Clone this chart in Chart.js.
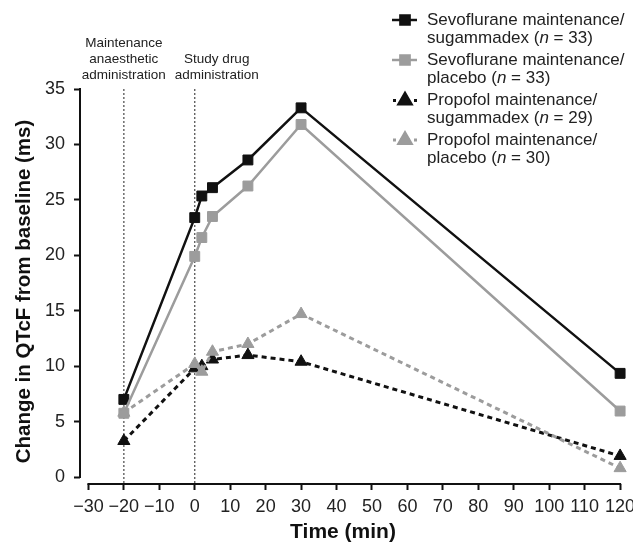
<!DOCTYPE html>
<html>
<head>
<meta charset="utf-8">
<script src="https://cdn.jsdelivr.net/npm/chart.js@4.4.1/dist/chart.umd.min.js"></script>
<style>
  html, body { margin: 0; padding: 0; background: #fff; }
  #wrap { width: 633px; height: 542px; position: relative; }
</style>
</head>
<body>
<div id="wrap"><canvas id="chart"></canvas></div>
<script>
// time points (min) and mean change in QTcF (ms)
const TIMES = [-20, 0, 2, 5, 15, 30, 120];
const SEVO_SUG = [7.0, 23.4, 25.35, 26.1, 28.6, 33.3, 9.35];
const SEVO_PLA = [5.75, 19.9, 21.6, 23.5, 26.25, 31.8, 5.95];
const PROP_SUG = [3.25, 9.8, 10.0, 10.6, 11.0, 10.4, 1.9];
const PROP_PLA = [5.8, 10.2, 9.5, 11.3, 12.0, 14.7, 0.8];

const X_TICKS = [-30, -20, -10, 0, 10, 20, 30, 40, 50, 60, 70, 80, 90, 100, 110, 120];
const Y_TICKS = [0, 5, 10, 15, 20, 25, 30, 35];

const EVENT_TIMES = [-20, 0];
const EVENT_LABELS = [["Maintenance", "anaesthetic", "administration"], ["Study drug", "administration"]];

const SERIES_LINE1 = ["Sevoflurane maintenance/", "Sevoflurane maintenance/", "Propofol maintenance/", "Propofol maintenance/"];
const SERIES_LINE2 = ["sugammadex", "placebo", "sugammadex", "placebo"];
const SERIES_N = [33, 33, 29, 30];

const BLACK = '#111111';
const GREY = '#9c9c9c';
const FONT = '"Liberation Sans", Arial, Helvetica, sans-serif';
const Y_MIN = -0.63, X_MIN = -32.37, X_MAX = 121.1;

const styles = [
  { color: BLACK, shape: 'rect', dash: [] },
  { color: GREY, shape: 'rect', dash: [] },
  { color: BLACK, shape: 'triangle', dash: [5, 4] },
  { color: GREY, shape: 'triangle', dash: [5, 4] }
];
const seriesValues = [SEVO_SUG, SEVO_PLA, PROP_SUG, PROP_PLA];

const datasets = seriesValues.map((vals, i) => ({
  data: TIMES.map((t, j) => ({ x: t, y: vals[j] })),
  borderColor: styles[i].color,
  backgroundColor: styles[i].color,
  borderWidth: styles[i].dash.length ? 3 : 2.5,
  borderDash: styles[i].dash,
  pointStyle: styles[i].shape,
  pointRadius: 7,
  pointBorderWidth: 1,
  tension: 0,
  clip: false,
  order: 3 - i
}));

// vertical dotted event lines
EVENT_TIMES.forEach(t => {
  datasets.push({
    data: [{ x: t, y: 35 }, { x: t, y: Y_MIN }],
    borderColor: '#555',
    borderWidth: 1.3,
    borderDash: [2, 2],
    pointRadius: 0,
    order: 10
  });
});

// axis lines, titles, event text, legend
const overlay = {
  id: 'overlay',
  afterDraw(chart) {
    const { ctx, chartArea, scales: { x, y } } = chart;
    ctx.save();

    // axis lines (detached)
    ctx.strokeStyle = BLACK;
    ctx.lineWidth = 2;
    ctx.setLineDash([]);
    ctx.beginPath();
    ctx.moveTo(chartArea.left, y.getPixelForValue(35) - 1);
    ctx.lineTo(chartArea.left, y.getPixelForValue(0) + 1);
    ctx.moveTo(x.getPixelForValue(-30) - 1, chartArea.bottom);
    ctx.lineTo(x.getPixelForValue(120) + 1, chartArea.bottom);
    ctx.stroke();

    // axis titles
    ctx.fillStyle = BLACK;
    ctx.font = 'bold 21px ' + FONT;
    ctx.textAlign = 'center';
    ctx.textBaseline = 'alphabetic';
    ctx.fillText('Time (min)', 343, 538);
    ctx.font = 'bold 20.5px ' + FONT;
    ctx.textBaseline = 'middle';
    ctx.save();
    ctx.translate(24, 291.5);
    ctx.rotate(-Math.PI / 2);
    ctx.fillText('Change in QTcF from baseline (ms)', 0, 0);
    ctx.restore();

    // event labels
    ctx.font = '13.5px ' + FONT;
    ctx.fillStyle = '#222';
    ctx.textBaseline = 'alphabetic';
    const anchors = [x.getPixelForValue(EVENT_TIMES[0]), x.getPixelForValue(EVENT_TIMES[1]) + 22];
    EVENT_LABELS.forEach((lines, k) => {
      lines.forEach((txt, j) => {
        ctx.fillText(txt, anchors[k], 79 - (lines.length - 1 - j) * 16);
      });
    });

    // legend
    ctx.textAlign = 'left';
    ctx.textBaseline = 'middle';
    const rows = [20, 60, 100.5, 140];
    styles.forEach((s, i) => {
      const ry = rows[i];
      ctx.strokeStyle = s.color;
      ctx.fillStyle = s.color;
      ctx.lineWidth = s.dash.length ? 3 : 2.5;
      ctx.setLineDash(s.dash.length ? [3, 4] : []);
      ctx.beginPath();
      if (s.dash.length) {
        ctx.moveTo(393, ry); ctx.lineTo(418, ry);
      } else {
        ctx.moveTo(392, ry); ctx.lineTo(417, ry);
      }
      ctx.stroke();
      ctx.setLineDash([]);
      Chart.helpers.drawPoint(ctx, { pointStyle: s.shape, radius: s.shape === 'rect' ? 6.5 : 7, borderWidth: 1 }, 405, ry);
      ctx.fill();

      ctx.fillStyle = '#222';
      ctx.font = '17px ' + FONT;
      ctx.fillText(SERIES_LINE1[i], 427, ry);
      let tx = 427;
      const y2 = ry + 18;
      const p1 = SERIES_LINE2[i] + ' (';
      ctx.fillText(p1, tx, y2); tx += ctx.measureText(p1).width;
      ctx.font = 'italic 17px ' + FONT;
      ctx.fillText('n', tx, y2); tx += ctx.measureText('n').width;
      ctx.font = '17px ' + FONT;
      ctx.fillText(' = ' + SERIES_N[i] + ')', tx, y2);
    });
    ctx.restore();
  }
};

const tickFont = { family: FONT, size: 18 };

new Chart(document.getElementById('chart').getContext('2d'), {
  type: 'line',
  data: { datasets },
  options: {
    responsive: true,
    maintainAspectRatio: false,
    animation: false,
    layout: { padding: { top: 89, right: 9, left: 0, bottom: 0 } },
    plugins: { legend: { display: false }, tooltip: { enabled: false } },
    scales: {
      x: {
        type: 'linear',
        min: X_MIN,
        max: X_MAX,
        afterBuildTicks: s => { s.ticks = X_TICKS.map(v => ({ value: v })); },
        afterFit: s => { s.height = 58; s.paddingLeft = 0; s.paddingRight = 0; },
        border: { display: false },
        grid: { drawOnChartArea: false, drawTicks: true, tickLength: 6, tickWidth: 2, tickColor: BLACK },
        ticks: {
          autoSkip: false,
          maxRotation: 0,
          padding: 6,
          color: '#222',
          font: tickFont,
          callback: v => (v < 0 ? '\u2212' + Math.abs(v) : String(v))
        }
      },
      y: {
        min: Y_MIN,
        max: 35,
        afterBuildTicks: s => { s.ticks = Y_TICKS.map(v => ({ value: v })); },
        afterFit: s => { s.width = 80; s.paddingTop = 0; s.paddingBottom = 0; },
        border: { display: false },
        grid: { drawOnChartArea: false, drawTicks: true, tickLength: 6, tickWidth: 2, tickColor: BLACK },
        ticks: { padding: 9, color: '#222', font: tickFont }
      }
    }
  },
  plugins: [overlay]
});
</script>
</body>
</html>
